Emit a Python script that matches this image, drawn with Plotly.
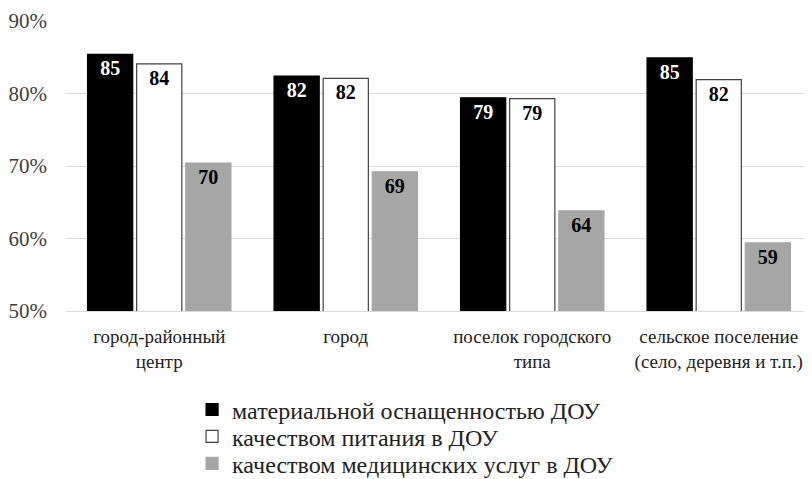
import plotly.graph_objects as go

categories = [
    "город-районный<br>центр",
    "город",
    "поселок городского<br>типа",
    "сельское поселение<br>(село, деревня и т.п.)",
]
series_names = [
    "материальной оснащенностью ДОУ",
    "качеством питания в ДОУ",
    "качеством медицинских услуг в ДОУ",
]
equipment = [85.4, 82.4, 79.4, 84.9]
nutrition = [84.1, 82.1, 79.3, 81.9]
medical = [70.4, 69.2, 63.8, 59.4]
y_ticks = [50, 60, 70, 80, 90]

FONT = "Liberation Serif"

styles = [
    dict(fill="#000000", line="#000000", text="#ffffff"),
    dict(fill="#ffffff", line="#404040", text="#000000"),
    dict(fill="#a6a6a6", line="#a6a6a6", text="#000000"),
]
legend_ids = ["legend", "legend2", "legend3"]

fig = go.Figure()
for name, vals, st, lg in zip(series_names, [equipment, nutrition, medical], styles, legend_ids):
    fig.add_trace(go.Bar(
        x=categories,
        y=vals,
        name=name,
        legend=lg,
        marker=dict(color=st["fill"], line=dict(color=st["line"], width=1.2)),
        texttemplate="%{y:.0f}",
        textposition="inside",
        insidetextanchor="end",
        textangle=0,
        textfont=dict(family=FONT, size=20, color=st["text"], weight="bold"),
    ))

# one legend per series so the rows can sit close together with a large font
legend_rows = [-0.341, -0.434, -0.527]
legend_style = dict(
    x=0.169,
    xanchor="left",
    yanchor="middle",
    font=dict(family=FONT, size=24, color="#222222"),
    itemwidth=30,
    bgcolor="rgba(0,0,0,0)",
)

# the page body adds an 8px margin, so the figure is 8px smaller on each side
fig.update_layout(
    width=804,
    height=471,
    barmode="group",
    bargap=0.21,
    bargroupgap=0.08,
    plot_bgcolor="white",
    paper_bgcolor="white",
    margin=dict(l=58, r=0, t=13, b=168, autoexpand=False),
    font=dict(family=FONT, color="#333333"),
    legend=dict(y=legend_rows[0], **legend_style),
    legend2=dict(y=legend_rows[1], **legend_style),
    legend3=dict(y=legend_rows[2], **legend_style),
    showlegend=True,
)
fig.update_yaxes(
    range=[50, 90],
    tickvals=y_ticks,
    ticktext=[f"{v}%" for v in y_ticks],
    showgrid=True,
    gridcolor="#d9d9d9",
    gridwidth=1,
    zeroline=False,
    showline=False,
    tickfont=dict(family=FONT, size=21, color="#404040"),
    ticks="",
    ticklabelstandoff=18,
    automargin=False,
)
fig.update_xaxes(
    showline=True,
    linecolor="#d9d9d9",
    linewidth=1,
    tickfont=dict(family=FONT, size=19, color="#222222"),
    ticks="",
    ticklabelstandoff=8,
    automargin=False,
)

fig.write_html("out.html")
